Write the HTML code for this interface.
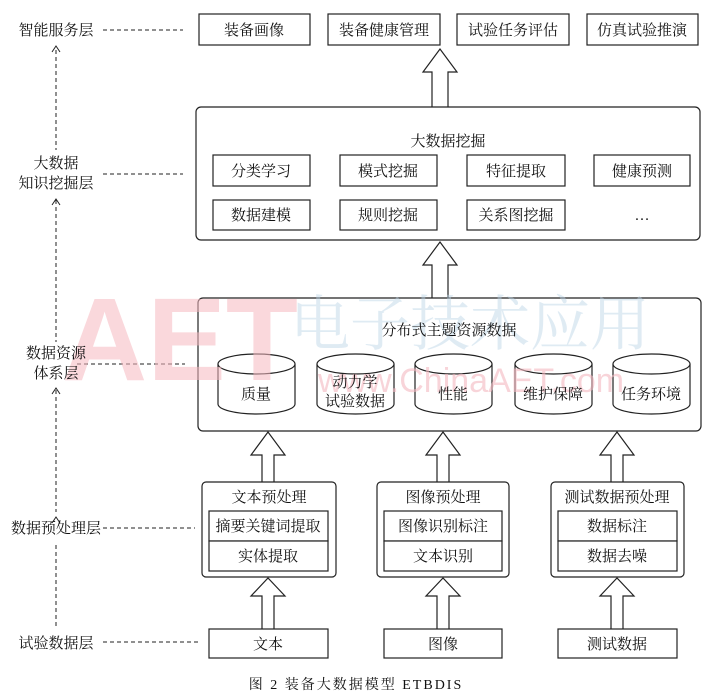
<!DOCTYPE html>
<html><head><meta charset="utf-8"><style>
html,body{margin:0;padding:0;background:#fff;}
svg{display:block;}
text{font-family:"Liberation Serif","Noto Serif CJK SC","Noto Sans CJK SC",serif;font-size:15px;fill:#111;}
</style></head><body>
<svg width="713" height="699" viewBox="0 0 713 699" xmlns="http://www.w3.org/2000/svg">
<defs>
<g id="cyl"><path d="M0,10 V50 A38.5,10 0 0 0 77,50 V10" fill="#fff" stroke="#222" stroke-width="1.2"/><ellipse cx="38.5" cy="10" rx="38.5" ry="10" fill="#fff" stroke="#222" stroke-width="1.2"/></g>
</defs>

<g fill="none" stroke="#222" stroke-width="1.2">
<g stroke-dasharray="4,3" stroke-width="1">
<line x1="103" y1="30" x2="183" y2="30"/>
<line x1="103" y1="174" x2="183" y2="174"/>
<line x1="77" y1="364" x2="185" y2="364"/>
<line x1="103" y1="528" x2="195" y2="528"/>
<line x1="103" y1="642" x2="200" y2="642"/>
<line x1="56" y1="50" x2="56" y2="150"/>
<line x1="56" y1="200" x2="56" y2="342"/>
<line x1="56" y1="390" x2="56" y2="512"/>
<line x1="56" y1="545" x2="56" y2="628"/>
</g>
<path d="M52,52 L56,46 L60,52 M52,205 L56,199 L60,205 M52,394 L56,388 L60,394 M52,523 L56,517 L60,523" stroke-width="1"/>
<rect x="199" y="14" width="111" height="31"/>
<rect x="328" y="14" width="112" height="31"/>
<rect x="457" y="14" width="112" height="31"/>
<rect x="587" y="14" width="111" height="31"/>
<path d="M432,107 V72 H423 L440,49 L457,72 H448 V107" fill="#fff"/>
<path d="M432,298 V265 H423 L440,242 L457,265 H448 V298" fill="#fff"/>
<rect x="196" y="107" width="504" height="133" rx="5"/>
<rect x="213" y="155" width="97" height="31"/>
<rect x="340" y="155" width="97" height="31"/>
<rect x="467" y="155" width="98" height="31"/>
<rect x="594" y="155" width="96" height="31"/>
<rect x="213" y="200" width="97" height="30"/>
<rect x="340" y="200" width="97" height="30"/>
<rect x="467" y="200" width="98" height="30"/>
<rect x="198" y="298" width="503" height="133" rx="5"/>
</g>
<use href="#cyl" x="218" y="354"/>
<use href="#cyl" x="317" y="354"/>
<use href="#cyl" x="415" y="354"/>
<use href="#cyl" x="515" y="354"/>
<use href="#cyl" x="613" y="354"/>
<!-- watermark -->
<text x="62" y="380" style="font-family:'Liberation Sans',sans-serif;font-size:118px;font-weight:bold;fill:#f6b9c0" opacity="0.55">AET</text>
<text x="318" y="392" style="font-family:'Liberation Sans',sans-serif;font-size:34px;fill:#f4b8c0" opacity="0.6">www.ChinaAET.com</text>
<text x="290" y="345" style="font-size:60px;fill:#b9d3e6" opacity="0.45">电子技术应用</text>
<g fill="#fff" stroke="#222" stroke-width="1.2">
<path d="M262,482 V455 H251 L268,432 L285,455 H274 V482"/>
<path d="M437,482 V455 H426 L443,432 L460,455 H449 V482"/>
<path d="M611,482 V455 H600 L617,432 L634,455 H623 V482"/>
<rect x="202" y="482" width="134" height="95" rx="4"/>
<rect x="209" y="511" width="119" height="30"/><rect x="209" y="541" width="119" height="30"/>
<rect x="377" y="482" width="132" height="95" rx="4"/>
<rect x="384" y="511" width="118" height="30"/><rect x="384" y="541" width="118" height="30"/>
<rect x="551" y="482" width="133" height="95" rx="4"/>
<rect x="558" y="511" width="119" height="30"/><rect x="558" y="541" width="119" height="30"/>
<path d="M262,629 V596 H251 L268,578 L285,596 H274 V629"/>
<path d="M437,629 V596 H426 L443,578 L460,596 H449 V629"/>
<path d="M611,629 V596 H600 L617,578 L634,596 H623 V629"/>
<rect x="209" y="629" width="119" height="29"/>
<rect x="384" y="629" width="118" height="29"/>
<rect x="558" y="629" width="119" height="29"/>
</g>
<g text-anchor="middle">
<text x="56" y="35">智能服务层</text>
<text x="56" y="168">大数据</text><text x="56" y="188">知识挖掘层</text>
<text x="56" y="358">数据资源</text><text x="56" y="378">体系层</text>
<text x="56" y="533">数据预处理层</text>
<text x="56" y="648">试验数据层</text>
<text x="254" y="35">装备画像</text>
<text x="384" y="35">装备健康管理</text>
<text x="513" y="35">试验任务评估</text>
<text x="642" y="35">仿真试验推演</text>
<text x="448" y="146">大数据挖掘</text>
<text x="261" y="176">分类学习</text><text x="388" y="176">模式挖掘</text><text x="516" y="176">特征提取</text><text x="642" y="176">健康预测</text>
<text x="261" y="220">数据建模</text><text x="388" y="220">规则挖掘</text><text x="516" y="220">关系图挖掘</text><text x="642" y="220">…</text>
<text x="449" y="335">分布式主题资源数据</text>
<text x="256" y="399">质量</text>
<text x="355" y="387">动力学</text><text x="355" y="406">试验数据</text>
<text x="453" y="399">性能</text>
<text x="553" y="399">维护保障</text>
<text x="651" y="399">任务环境</text>
<text x="269" y="502">文本预处理</text><text x="443" y="502">图像预处理</text><text x="617" y="502">测试数据预处理</text>
<text x="268" y="531">摘要关键词提取</text><text x="268" y="561">实体提取</text>
<text x="443" y="531">图像识别标注</text><text x="443" y="561">文本识别</text>
<text x="617" y="531">数据标注</text><text x="617" y="561">数据去噪</text>
<text x="268" y="649">文本</text><text x="443" y="649">图像</text><text x="617" y="649">测试数据</text>
<text x="356" y="689" style="font-size:14px;letter-spacing:2px">图 2  装备大数据模型 ETBDIS</text>
</g>
</svg>
</body></html>
